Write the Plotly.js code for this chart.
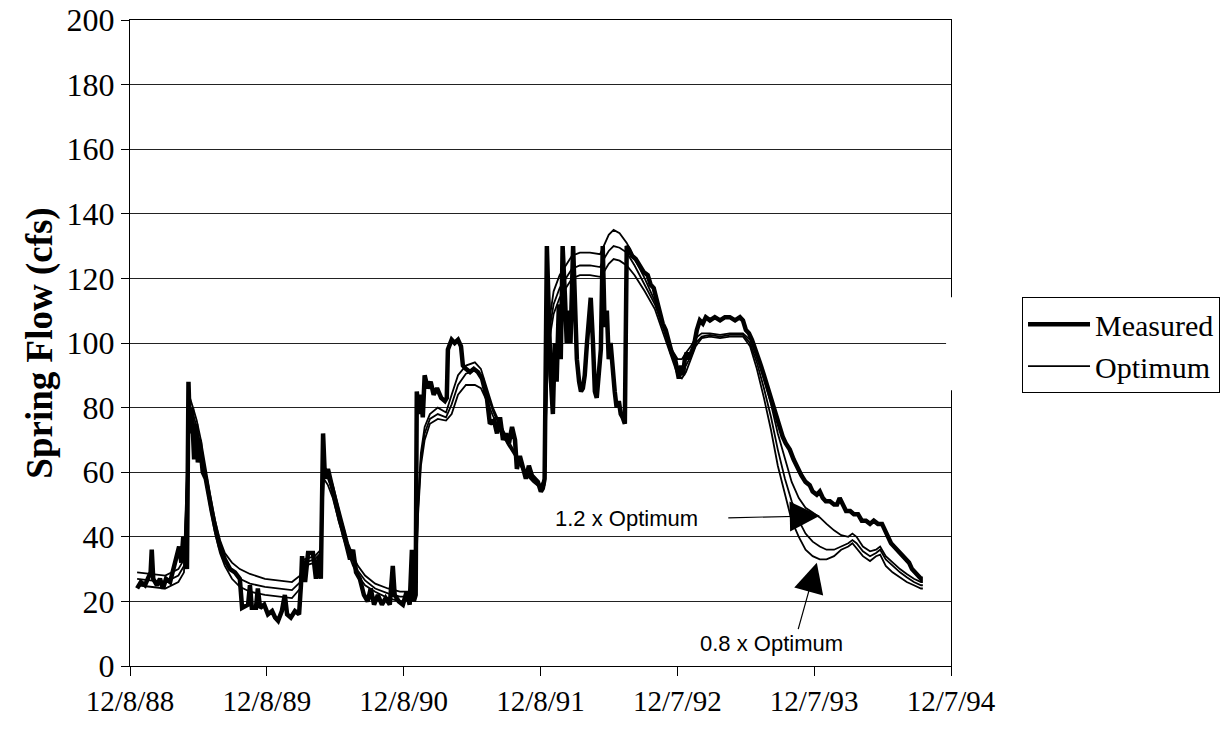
<!DOCTYPE html>
<html>
<head>
<meta charset="utf-8">
<script src="https://cdn.plot.ly/plotly-3.0.1.min.js"></script>
<style>
  html, body { margin: 0; padding: 0; background: #fff; }
  #chart { width: 1232px; height: 731px; }
</style>
</head>
<body>
<div id="chart"></div>
<script>
// Measured spring flow (cfs)
const measuredDates = [
  '1988-12-27','1989-01-06','1989-01-17','1989-01-28','1989-02-01','1989-02-04','1989-02-08','1989-02-18',
  '1989-02-26','1989-03-06','1989-03-14','1989-03-25','1989-04-02','1989-04-10','1989-04-18','1989-04-24',
  '1989-04-29','1989-05-04','1989-05-09','1989-05-13','1989-05-17','1989-05-22','1989-05-28','1989-06-02',
  '1989-06-07','1989-06-12','1989-06-20','1989-06-28','1989-07-06','1989-07-14','1989-07-25','1989-08-05',
  '1989-08-18','1989-09-01','1989-09-14','1989-09-27','1989-10-03','1989-10-19','1989-10-24','1989-10-29',
  '1989-11-09','1989-11-14','1989-11-20','1989-12-01','1989-12-11','1989-12-22','1989-12-30','1990-01-07',
  '1990-01-17','1990-01-25','1990-01-31','1990-02-10','1990-02-21','1990-03-04','1990-03-09','1990-03-12',
  '1990-03-20','1990-03-28','1990-04-10','1990-04-18','1990-04-26','1990-05-01','1990-05-07','1990-05-12',
  '1990-05-20','1990-05-31','1990-06-11','1990-06-21','1990-06-29','1990-07-10','1990-07-18','1990-07-26',
  '1990-08-03','1990-08-13','1990-08-24','1990-09-03','1990-09-11','1990-09-20','1990-09-30','1990-10-11',
  '1990-10-21','1990-11-01','1990-11-09','1990-11-14','1990-11-25','1990-12-06','1990-12-16','1990-12-24',
  '1990-12-30','1991-01-04','1991-01-09','1991-01-12','1991-01-17','1991-01-23','1991-01-28','1991-02-02',
  '1991-02-10','1991-02-18','1991-02-26','1991-03-07','1991-03-18','1991-03-28','1991-04-02','1991-04-05',
  '1991-04-15','1991-04-23','1991-05-02','1991-05-10','1991-05-15','1991-05-23','1991-06-03','1991-06-13',
  '1991-06-24','1991-07-05','1991-07-13','1991-07-18','1991-07-26','1991-08-06','1991-08-14','1991-08-22',
  '1991-08-30','1991-09-07','1991-09-15','1991-09-23','1991-10-01','1991-10-06','1991-10-14','1991-10-22',
  '1991-10-30','1991-11-07','1991-11-15','1991-11-23','1991-12-01','1991-12-09','1991-12-14','1991-12-19',
  '1991-12-25','1991-12-30','1992-01-04','1992-01-10','1992-01-15','1992-01-20','1992-01-26','1992-01-31',
  '1992-02-05','1992-02-11','1992-02-16','1992-02-21','1992-02-26','1992-03-04','1992-03-09','1992-03-14',
  '1992-03-20','1992-03-25','1992-03-30','1992-04-04','1992-04-10','1992-04-15','1992-04-20','1992-04-26',
  '1992-05-01','1992-05-06','1992-05-11','1992-05-17','1992-05-22','1992-05-27','1992-06-02','1992-06-07',
  '1992-06-12','1992-06-18','1992-06-23','1992-06-28','1992-07-04','1992-07-09','1992-07-14','1992-07-20',
  '1992-07-25','1992-07-31','1992-08-08','1992-08-18','1992-08-29','1992-09-08','1992-09-19','1992-09-27',
  '1992-10-05','1992-10-13','1992-10-21','1992-10-29','1992-11-06','1992-11-14','1992-11-22','1992-12-01',
  '1992-12-06','1992-12-11','1992-12-17','1992-12-22','1992-12-27','1993-01-01','1993-01-06','1993-01-12',
  '1993-01-20','1993-01-28','1993-02-05','1993-02-13','1993-02-21','1993-03-04','1993-03-17','1993-03-31',
  '1993-04-13','1993-04-26','1993-05-10','1993-05-23','1993-05-31','1993-06-08','1993-06-16','1993-06-24',
  '1993-07-04','1993-07-15','1993-07-26','1993-08-05','1993-08-16','1993-08-27','1993-09-06','1993-09-14',
  '1993-09-22','1993-10-03','1993-10-13','1993-10-24','1993-11-03','1993-11-14','1993-11-25','1993-12-03',
  '1993-12-14','1993-12-22','1993-12-30','1994-01-07','1994-01-18','1994-01-29','1994-02-06','1994-02-13',
  '1994-02-21','1994-03-02','1994-03-13','1994-03-23','1994-04-03','1994-04-13','1994-04-24','1994-05-05',
  '1994-05-15','1994-05-26','1994-06-06','1994-06-14','1994-06-22','1994-06-30','1994-07-08','1994-07-16',
  '1994-07-24','1994-08-01','1994-08-09','1994-08-17','1994-08-25','1994-09-02','1994-09-10','1994-09-18',
  '1994-09-23'
];
const measuredFlow = [
  24,26,25,28,29,36,27,25,
  27,24,27,26,30,34,37,32,
  40,38,30,88,72,80,64,75,
  63,70,60,58,52,48,42,37,
  33,30,29,27,18,19,25,18,
  18,24,18,19,16,17,15,14,
  17,22,16,15,17,16,25,34,
  26,35,35,27,34,27,72,58,
  61,55,50,45,42,37,33,36,
  29,27,22,20,24,19,22,19,
  21,19,31,22,20,19,23,19,
  36,20,22,85,78,84,77,90,
  86,88,84,86,83,82,83,98,
  101,100,101,99,93,92,91,92,
  91,89,86,83,75,76,72,77,
  70,72,69,74,70,61,65,62,
  58,62,59,58,57,54,55,58,
  130,110,90,78,100,88,112,95,
  130,115,100,110,100,130,110,95,
  88,85,86,90,100,108,114,100,
  85,83,90,98,130,105,110,95,
  100,90,85,80,82,78,77,75,
  130,129,127,126,124,122,121,118,
  117,113,110,106,104,100,97,95,
  91,89,93,90,95,97,95,97,
  99,104,107,106,108,107,108,107,
  108,108,107,108,107,104,103,101,
  98,94,90,86,82,78,74,71,
  69,67,64,61,59,57,56,54,
  53,54,52,51,51,50,50,52,
  50,48,48,47,47,45,45,44,
  45,44,44,42,40,38,37,36,
  35,34,33,32,30,29,28,27,
  27
];

// Simulated spring flow: optimum parameters and the 1.2x / 0.8x runs
const modelDates = [
  '1988-12-27','1989-01-30','1989-03-12','1989-04-16','1989-05-01','1989-05-09','1989-05-17','1989-05-25',
  '1989-06-04','1989-06-15','1989-06-26','1989-07-10','1989-07-23','1989-08-05','1989-08-18','1989-09-06',
  '1989-09-27','1989-10-24','1989-12-03','1990-01-12','1990-02-13','1990-03-07','1990-03-17','1990-04-15',
  '1990-05-01','1990-05-09','1990-05-20','1990-06-02','1990-06-16','1990-06-29','1990-07-13','1990-07-26',
  '1990-08-08','1990-08-27','1990-09-23','1990-10-27','1990-11-28','1990-12-24','1991-01-09','1991-01-15',
  '1991-01-23','1991-02-02','1991-02-16','1991-03-09','1991-03-31','1991-04-15','1991-05-02','1991-05-23',
  '1991-06-16','1991-07-02','1991-07-18','1991-08-03','1991-08-22','1991-09-12','1991-10-04','1991-10-25',
  '1991-11-18','1991-12-09','1991-12-19','1991-12-25','1992-01-02','1992-01-12','1992-01-28','1992-02-13',
  '1992-03-01','1992-03-22','1992-04-18','1992-05-15','1992-05-25','1992-06-07','1992-06-20','1992-07-06',
  '1992-07-25','1992-08-15','1992-09-11','1992-10-08','1992-11-01','1992-11-22','1992-12-08','1992-12-19',
  '1992-12-30','1993-01-12','1993-01-25','1993-02-10','1993-03-04','1993-03-31','1993-04-26','1993-05-23',
  '1993-05-31','1993-06-19','1993-07-07','1993-07-26','1993-08-14','1993-09-01','1993-09-20','1993-10-08',
  '1993-10-27','1993-11-14','1993-12-03','1993-12-22','1994-01-09','1994-01-29','1994-02-17','1994-03-08',
  '1994-03-19','1994-03-30','1994-04-16','1994-05-05','1994-05-21','1994-06-01','1994-06-16','1994-07-04',
  '1994-07-24','1994-08-11','1994-08-30','1994-09-18','1994-09-23'
];
const flowHigh = [ // 1.2 x Optimum
  29,28.5,28,30,33,60,83,80,
  76,70,62,53,45,39,35,32,
  30,28.5,27,26.5,26,28,33,34,
  36,62,60,56,50,44,38,34,
  31,28,25.5,24,23,23,25,50,
  66,74,78,80,78.5,84,90,93,
  94,92,86,80,75,70,65.5,61,
  58,56,58,90,108,116,121,124,
  127,128,128,127.5,130,133.5,135,134,
  131,126,120,113,105,98,95,95,
  97,99,101.5,103,103,102.5,103,103,
  103,101,96,89,81,72,64,57,
  52,49,47.5,46,44,42,40.5,40,
  41,40,37,35.5,36,37,34,32,
  30,28.5,27,26,26
];
const flowOptimum = [
  27,26.5,26,28,31,58,80,78,
  74,68,60,51,43,37,33,29.5,
  27,25.5,24.5,24,23.5,26,32,33,
  35,60,58,54,48,42,36.5,32.5,
  29.5,26.5,24,22.5,21.5,21.5,24,48,
  64,72,76.5,78,77,81,87,90.5,
  91.5,90,84.5,79,74,69,65,60.5,
  57.5,55.5,57,88,105,112,117,120,
  123,124,124,123.5,126,128.5,130,129.5,
  128,124,118,112,104,96.5,92.5,91.5,
  93,96,100,102,102.5,102,102.5,102.5,
  102.5,100,94,86,77,67,58,51,
  45,41,38.5,37,36,36,37,38,
  39,38,35.5,34,35,36,33,31,
  29,27.5,26,25,25
];
const flowLow = [ // 0.8 x Optimum
  25,24.5,24,26,29,56,78,76,
  72,66,58,49,41,35,31,27,
  24.5,23,22,21.5,21,24,31,32,
  34,58,56,52,46,40,35,31,
  28,25,23,21,20,20.5,23,46,
  62,70,75,76.5,76,78,84,87,
  87,86,82,77.5,73,68.5,64.5,60,
  57,55,56,86,102,109,114,117,
  120,121,121,120.5,122,124.5,126,125.5,
  124,121,116,110.5,102.5,95,90,89,
  91,95,99,101.5,102,101.5,102,102,
  102,99,92,83,73,62,53,45,
  40,36,34,33,33,34,36,37,
  38,36.5,34,32.5,34,34.5,31,29,
  27.5,26,25,24,24
];

// Axis ticks: one per 365 days from 12/8/88
const tickDates = ['1988-12-08','1989-12-08','1990-12-08','1991-12-08','1992-12-07','1993-12-07','1994-12-07'];
const tickLabels = ['12/8/88','12/8/89','12/8/90','12/8/91','12/7/92','12/7/93','12/7/94'];

const serif = 'Liberation Serif, Times New Roman, serif';
const sans = 'Liberation Sans, Arial, sans-serif';

const thin = { color: '#000', width: 1.8 };

const traces = [
  { x: modelDates, y: flowHigh, type: 'scatter', mode: 'lines', line: thin, showlegend: false, name: '1.2 x Optimum' },
  { x: modelDates, y: flowLow, type: 'scatter', mode: 'lines', line: thin, showlegend: false, name: '0.8 x Optimum' },
  { x: measuredDates, y: measuredFlow, type: 'scatter', mode: 'lines', line: { color: '#000', width: 4.5 }, name: 'Measured' },
  { x: modelDates, y: flowOptimum, type: 'scatter', mode: 'lines', line: thin, name: 'Optimum' }
];

const layout = {
  width: 1232,
  height: 731,
  margin: { l: 130, r: 281, t: 20, b: 65 },
  paper_bgcolor: '#fff',
  plot_bgcolor: '#fff',
  showlegend: true,
  legend: {
    x: 1.0865, xanchor: 'left',
    y: 0.571, yanchor: 'top',
    bgcolor: '#fff',
    bordercolor: '#000',
    borderwidth: 1,
    font: { family: serif, size: 30, color: '#000' },
    itemwidth: 62,
    tracegroupgap: 0,
    traceorder: 'normal'
  },
  xaxis: {
    type: 'date',
    range: ['1988-12-08', '1994-12-07'],
    tickvals: tickDates,
    ticktext: tickLabels,
    ticks: 'outside',
    ticklen: 9,
    tickwidth: 1,
    tickcolor: '#000',
    showgrid: false,
    showline: true,
    linecolor: '#000',
    linewidth: 1,
    mirror: true,
    zeroline: false,
    tickfont: { family: serif, size: 29, color: '#000' }
  },
  xaxis2: {
    type: 'date',
    overlaying: 'x',
    anchor: 'y',
    range: ['1988-12-08', '1994-12-07'],
    tickvals: tickDates,
    ticks: 'inside',
    ticklen: 9,
    tickwidth: 1,
    tickcolor: '#000',
    showticklabels: false,
    showgrid: false,
    showline: false,
    zeroline: false
  },
  yaxis: {
    range: [0, 200],
    dtick: 20,
    tick0: 0,
    ticks: 'outside',
    ticklen: 8,
    tickwidth: 1,
    tickcolor: '#000',
    showgrid: true,
    gridcolor: '#222',
    gridwidth: 1,
    showline: true,
    linecolor: '#000',
    linewidth: 1,
    mirror: true,
    zeroline: false,
    tickfont: { family: serif, size: 32, color: '#000' },
    title: {
      text: 'Spring Flow (cfs)',
      font: { family: serif, size: 37, color: '#000', weight: 'bold' },
      standoff: 2
    }
  },
  shapes: [
    // legend backing that hides part of the right frame
    { type: 'rect', xref: 'paper', yref: 'paper', x0: 0.994, x1: 1.01, y0: 0.427, y1: 0.571,
      fillcolor: '#fff', line: { width: 0 }, layer: 'above' }
  ],
  annotations: [
    { xref: 'x', yref: 'y', x: '1993-12-22', y: 46.5, text: '', showarrow: true,
      axref: 'pixel', ayref: 'pixel', ax: -93, ay: 2,
      arrowhead: 2, arrowsize: 5, arrowwidth: 1.2, arrowcolor: '#000' },
    { xref: 'x', yref: 'y', x: '1993-12-22', y: 46.5, text: '1.2 x Optimum', showarrow: false,
      xshift: -193, yshift: -3,
      font: { family: sans, size: 22, color: '#000' } },
    { xref: 'x', yref: 'y', x: '1993-12-14', y: 32, text: '', showarrow: true,
      ax: -19, ay: 68,
      arrowhead: 2, arrowsize: 5, arrowwidth: 1.2, arrowcolor: '#000' },
    { xref: 'x', yref: 'y', x: '1993-12-14', y: 32, text: '0.8 x Optimum', showarrow: false,
      xshift: -45, yshift: -81,
      font: { family: sans, size: 22, color: '#000' } }
  ]
};

Plotly.newPlot('chart', traces, layout, { displayModeBar: false, staticPlot: true });
</script>
</body>
</html>
